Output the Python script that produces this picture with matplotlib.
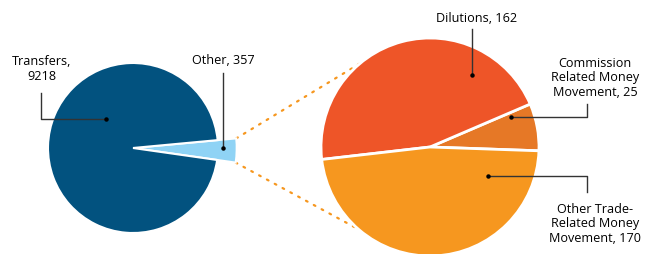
import numpy as np
import matplotlib.pyplot as plt

plt.rcParams['font.family'] = ['Open Sans', 'DejaVu Sans']

# left pie: all entries
left_labels = ['Other', 'Transfers']
left_values = [357, 9218]
left_colors = ['#8fd3f5', '#02527f']

# right pie: breakdown of "Other"
right_labels = ['Commission\nRelated Money\nMovement', 'Dilutions', 'Other Trade-\nRelated Money\nMovement']
right_values = [25, 162, 170]
right_colors = ['#e67826', '#ee5528', '#f6971f']

W, H = 652, 254
fig = plt.figure(figsize=(W / 100, H / 100), dpi=100)
ax = fig.add_axes([0, 0, 1, 1])

lc = (133, H - 148)
lr = 85
rc_ = (430, H - 147)
rr = 109

lw, _ = ax.pie(left_values, colors=left_colors, center=lc, radius=lr,
               startangle=-8.1, counterclock=True, frame=True,
               wedgeprops=dict(edgecolor='white', linewidth=1.5))
# the "Other" slice sticks out past the circle
lw[0].set_radius(lr * 1.22)

rw, _ = ax.pie(right_values, colors=right_colors, center=rc_, radius=rr,
               startangle=-2, counterclock=True, frame=True,
               wedgeprops=dict(edgecolor='white', linewidth=2))
ax.set_xlim(0, W)
ax.set_ylim(0, H)
ax.set_aspect('equal')
ax.axis('off')

# dotted connectors from the "Other" slice to the right pie
w = lw[0]
for ang_l, ang_r in [(w.theta2, 130), (w.theta1, 229)]:
    x0 = lc[0] + w.r * np.cos(np.radians(ang_l))
    y0 = lc[1] + w.r * np.sin(np.radians(ang_l))
    x1 = rc_[0] + rr * np.cos(np.radians(ang_r))
    y1 = rc_[1] + rr * np.sin(np.radians(ang_r))
    ax.plot([x0, x1], [y0, y1], color='#f6971f', lw=1.6,
            linestyle=(0, (0.8, 3.2)), dash_capstyle='round', zorder=0)

lead = dict(color='#333333', lw=1, zorder=5)
fs = 9.1


def leader(pts):
    xs = [p[0] for p in pts]
    ys = [H - p[1] for p in pts]
    ax.plot(xs, ys, **lead)
    ax.plot(xs[-1], ys[-1], 'o', color='black', ms=2.2, zorder=6)


# Transfers
ax.text(42, H - 69, f'{left_labels[1]},\n{left_values[1]}', ha='center', va='center',
        fontsize=fs, linespacing=1.15)
leader([(41, 93), (41, 119), (106, 119)])
# Other
ax.text(223, H - 61, f'{left_labels[0]}, {left_values[0]}', ha='center', va='center', fontsize=fs)
leader([(223, 73), (223, 148)])
# Dilutions
ax.text(477, H - 18, f'{right_labels[1]}, {right_values[1]}', ha='center', va='center', fontsize=fs)
leader([(472, 29), (472, 75)])
# Commission
ax.text(595, H - 78, f'{right_labels[0]}, {right_values[0]}', ha='center', va='center',
        fontsize=fs, linespacing=1.15)
leader([(587, 104), (587, 117), (511, 117)])
# Other trade
ax.text(595, H - 224, f'{right_labels[2]}, {right_values[2]}', ha='center', va='center',
        fontsize=fs, linespacing=1.15)
leader([(587, 192), (587, 176), (488, 176)])

fig.savefig('out.png', dpi=100, facecolor='white')
